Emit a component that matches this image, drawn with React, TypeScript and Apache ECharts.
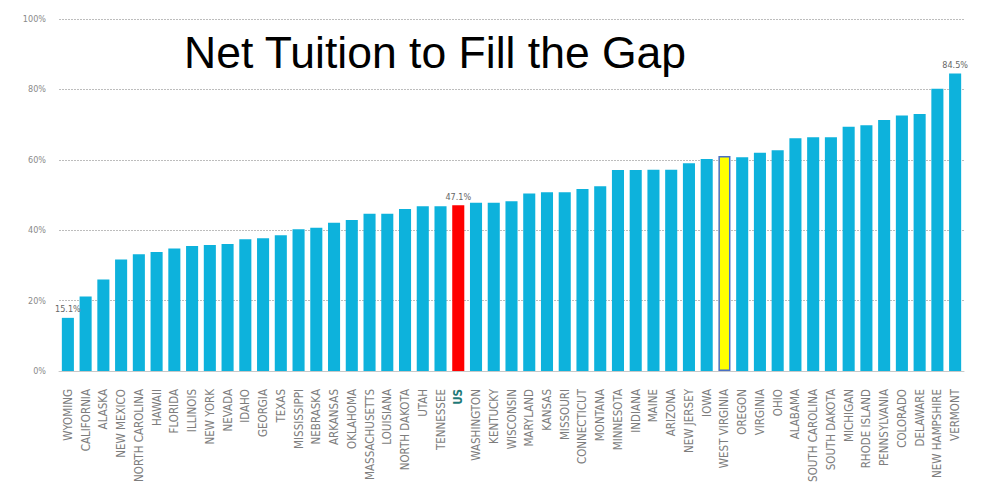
import React, { useEffect, useRef } from "react";
import * as echarts from "echarts";

const states = [
  "WYOMING", "CALIFORNIA", "ALASKA", "NEW MEXICO", "NORTH CAROLINA", "HAWAII", "FLORIDA", "ILLINOIS",
  "NEW YORK", "NEVADA", "IDAHO", "GEORGIA", "TEXAS", "MISSISSIPPI", "NEBRASKA", "ARKANSAS",
  "OKLAHOMA", "MASSACHUSETTS", "LOUISIANA", "NORTH DAKOTA", "UTAH", "TENNESSEE", "US", "WASHINGTON",
  "KENTUCKY", "WISCONSIN", "MARYLAND", "KANSAS", "MISSOURI", "CONNECTICUT", "MONTANA", "MINNESOTA",
  "INDIANA", "MAINE", "ARIZONA", "NEW JERSEY", "IOWA", "WEST VIRGINIA", "OREGON", "VIRGINIA",
  "OHIO", "ALABAMA", "SOUTH CAROLINA", "SOUTH DAKOTA", "MICHIGAN", "RHODE ISLAND", "PENNSYLVANIA",
  "COLORADO", "DELAWARE", "NEW HAMPSHIRE", "VERMONT",
];

const netTuitionPct = [
  15.1, 21.2, 26.0, 31.7, 33.2, 33.8, 34.8, 35.5,
  35.8, 36.1, 37.4, 37.7, 38.6, 40.3, 40.7, 42.1,
  42.9, 44.7, 44.7, 46.0, 46.8, 46.8, 47.1, 47.8,
  47.8, 48.2, 50.4, 50.8, 50.8, 51.7, 52.5, 57.1,
  57.1, 57.2, 57.2, 59.0, 60.2, 61.1, 60.7, 62.0,
  62.7, 66.1, 66.4, 66.4, 69.4, 69.8, 71.3,
  72.6, 73.0, 80.2, 84.5,
];

const labeledStates = ["WYOMING", "US", "VERMONT"];
const yTicks = [0, 20, 40, 60, 80, 100];
const titleText = "Net Tuition to Fill the Gap";

const narrowFont = "'Liberation Sans Narrow', 'DejaVu Sans Condensed', 'Liberation Sans', sans-serif";

export default function App() {
  const ref = useRef<HTMLDivElement>(null);

  useEffect(() => {
    if (!ref.current) return;
    const chart = echarts.init(ref.current, null, { renderer: "svg" });

    const barData = netTuitionPct.map((v, i) => {
      const name = states[i];
      const item: any = { value: v };
      if (name === "US") {
        item.itemStyle = { color: "#ff0000" };
      } else if (name === "WEST VIRGINIA") {
        item.itemStyle = { color: "#ffff00", borderColor: "#4a6fc4", borderWidth: 1.5 };
      }
      if (labeledStates.includes(name)) {
        item.label = {
          show: true,
          position: "top",
          formatter: (p: any) => p.value.toFixed(1) + "%",
          color: "#666",
          fontSize: 9,
          fontFamily: narrowFont,
          distance: 4,
        };
      }
      return item;
    });

    const cats = states.map((s) =>
      s === "US"
        ? { value: s, textStyle: { fontWeight: "bold", color: "#1f7a78" } }
        : s
    );

    chart.setOption({
      animation: false,
      backgroundColor: "#ffffff",
      title: {
        text: titleText,
        left: 171,
        top: 17,
        textStyle: {
          fontFamily: "Liberation Sans",
          fontWeight: "normal",
          fontSize: 44.5,
          color: "#000000",
        },
      },
      grid: { left: 51, right: 34, top: 11, bottom: 121, containLabel: false },
      xAxis: {
        type: "category",
        data: cats,
        axisLine: { show: true, lineStyle: { color: "#c8c8c8", width: 1 } },
        axisTick: { show: false },
        axisLabel: {
          rotate: 90,
          interval: 0,
          color: "#7d7d7d",
          fontSize: 11.5,
          fontFamily: narrowFont,
          margin: 18,
        },
      },
      yAxis: {
        type: "value",
        min: 0,
        max: 100,
        interval: 20,
        axisLine: { show: false },
        axisTick: { show: false },
        splitLine: { show: true, lineStyle: { color: "#bdbdbd", type: [2, 1], width: 1 } },
        axisLabel: {
          formatter: (v: number) => (yTicks.includes(v) ? v + "%" : ""),
          color: "#8a8a8a",
          fontSize: 9,
          fontFamily: narrowFont,
          margin: 13,
        },
      },
      series: [
        {
          type: "bar",
          data: barData,
          barCategoryGap: "32%",
          itemStyle: { color: "#0db2dc" },
        },
      ],
    });

    return () => chart.dispose();
  }, []);

  return <div ref={ref} style={{ width: 990, height: 484 }} />;
}
